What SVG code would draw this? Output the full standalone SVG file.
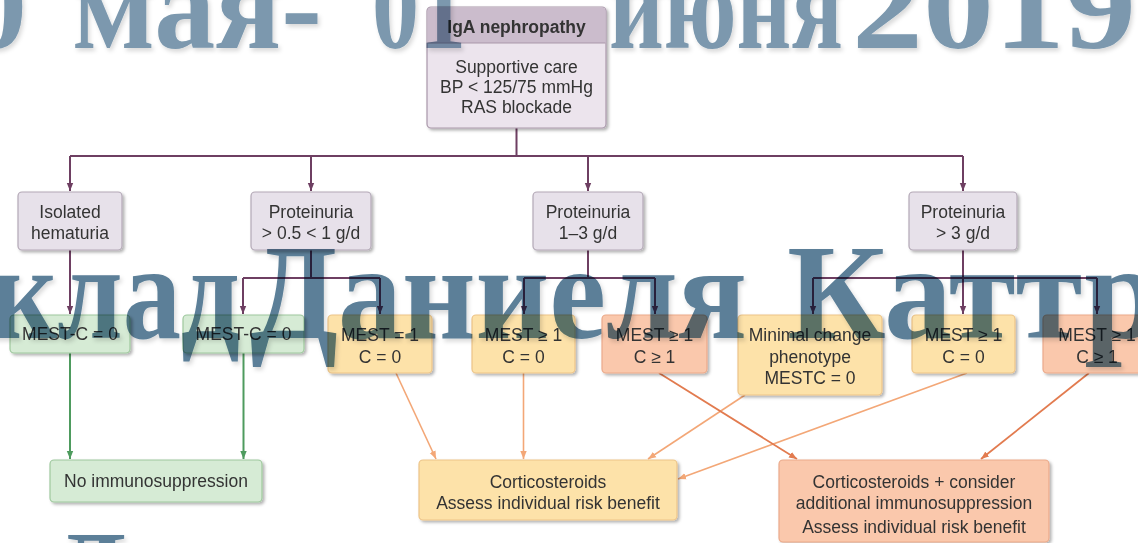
<svg xmlns="http://www.w3.org/2000/svg" width="1138" height="543" viewBox="0 0 1138 543">
<style>
.t{font-family:"Liberation Sans",Arial,sans-serif;font-size:17.5px;fill:#333;text-anchor:middle}
.b{font-weight:bold}
.lav{fill:#e7e1ea;stroke:#b3a8b6;stroke-width:1.2}
.grn{fill:#d6ebd5;stroke:#9ec89d;stroke-width:1.2}
.org{fill:#fde2a9;stroke:#edc488;stroke-width:1.2}
.sal{fill:#fac8ac;stroke:#eba98a;stroke-width:1.2}
.cp{stroke:#6e3f62;stroke-width:2;fill:none}
.cg{stroke:#4e9b5e;stroke-width:2;fill:none}
.co{stroke:#f3a777;stroke-width:1.6;fill:none}
.cr{stroke:#e27b4f;stroke-width:1.8;fill:none}
.wm{font-family:"Liberation Serif","DejaVu Serif",serif;font-weight:bold}
</style>
<defs>
<filter id="sh" x="-10%" y="-10%" width="130%" height="140%">
<feDropShadow dx="2" dy="2" stdDeviation="1.5" flood-color="#000" flood-opacity="0.3"/>
</filter>
<filter id="wsh" x="-5%" y="-5%" width="110%" height="120%">
<feDropShadow dx="2" dy="3" stdDeviation="2" flood-color="#000" flood-opacity="0.15"/>
</filter>
<marker id="ap" viewBox="0 0 10 10" refX="10" refY="5" markerWidth="8" markerHeight="8" orient="auto" markerUnits="userSpaceOnUse"><path d="M0,1 L10,5 L0,9 z" fill="#6e3f62"/></marker>
<marker id="ag" viewBox="0 0 10 10" refX="10" refY="5" markerWidth="8" markerHeight="8" orient="auto" markerUnits="userSpaceOnUse"><path d="M0,1 L10,5 L0,9 z" fill="#4e9b5e"/></marker>
<marker id="ao" viewBox="0 0 10 10" refX="10" refY="5" markerWidth="8" markerHeight="8" orient="auto" markerUnits="userSpaceOnUse"><path d="M0,1 L10,5 L0,9 z" fill="#f3a777"/></marker>
<marker id="ar" viewBox="0 0 10 10" refX="10" refY="5" markerWidth="8" markerHeight="8" orient="auto" markerUnits="userSpaceOnUse"><path d="M0,1 L10,5 L0,9 z" fill="#e27b4f"/></marker>
</defs>
<rect width="1138" height="543" fill="#fff"/>

<g id="connectors">
<path class="cp" d="M516.5,128 V156 M70,156 H963 M311,250 V278 M243,278 H380 M588,250 V278 M524,278 H655 M963,250 V278 M813,278 H1097"/>
<g marker-end="url(#ap)" class="cp">
<path d="M70,156 V191"/><path d="M311,156 V191"/><path d="M588,156 V191"/><path d="M963,156 V191"/>
<path d="M70,250 V314"/><path d="M243,278 V314"/><path d="M380,278 V314"/>
<path d="M524,278 V314"/><path d="M655,278 V314"/>
<path d="M813,278 V314"/><path d="M963,278 V314"/><path d="M1097,278 V314"/>
</g>
<g marker-end="url(#ag)" class="cg">
<path d="M70,353 V459"/><path d="M243.5,353 V459"/>
</g>
<g marker-end="url(#ao)" class="co">
<path d="M396,373 L436,459"/><path d="M523.5,373 V459"/><path d="M745,395 L648,459"/><path d="M967,373 L678,479"/>
</g>
<g marker-end="url(#ar)" class="cr">
<path d="M659,373 L797,459"/><path d="M1089,373 L981,459"/>
</g>
</g>

<g id="iga">
<rect x="427" y="7" width="179" height="121" rx="4" fill="#ece4ed" stroke="#a997aa" stroke-width="1.2" filter="url(#sh)"/>
<path d="M431,7.6 H602 A3.4,3.4 0 0 1 605.4,11 V43 H427.6 V11 A3.4,3.4 0 0 1 431,7.6 Z" fill="#cbbccc"/>
<line x1="427.6" y1="43" x2="605.4" y2="43" stroke="#a997aa" stroke-width="1"/>
<text class="t b" x="516.5" y="33">IgA nephropathy</text>
<text class="t" x="516.5" y="73">Supportive care</text>
<text class="t" x="516.5" y="93">BP &lt; 125/75 mmHg</text>
<text class="t" x="516.5" y="113">RAS blockade</text>
</g>

<g id="hematuria">
<rect class="lav" x="18" y="192" width="104" height="58" rx="4" filter="url(#sh)"/>
<text class="t" x="70" y="218">Isolated</text>
<text class="t" x="70" y="239">hematuria</text>
</g>
<g id="prot1">
<rect class="lav" x="251" y="192" width="120" height="58" rx="4" filter="url(#sh)"/>
<text class="t" x="311" y="218">Proteinuria</text>
<text class="t" x="311" y="239">&gt; 0.5 &lt; 1 g/d</text>
</g>
<g id="prot2">
<rect class="lav" x="533" y="192" width="110" height="58" rx="4" filter="url(#sh)"/>
<text class="t" x="588" y="218">Proteinuria</text>
<text class="t" x="588" y="239">1–3 g/d</text>
</g>
<g id="prot3">
<rect class="lav" x="909" y="192" width="108" height="58" rx="4" filter="url(#sh)"/>
<text class="t" x="963" y="218">Proteinuria</text>
<text class="t" x="963" y="239">&gt; 3 g/d</text>
</g>

<g id="g1">
<rect class="grn" x="10" y="315" width="120" height="38" rx="4" filter="url(#sh)"/>
<text class="t" x="70" y="340">MEST-C = 0</text>
</g>
<g id="g2">
<rect class="grn" x="183" y="315" width="121" height="38" rx="4" filter="url(#sh)"/>
<text class="t" x="243.5" y="340">MEST-C = 0</text>
</g>
<g id="o1">
<rect class="org" x="328" y="315" width="104" height="58" rx="4" filter="url(#sh)"/>
<text class="t" x="380" y="341">MEST = 1</text>
<text class="t" x="380" y="363">C = 0</text>
</g>
<g id="o2">
<rect class="org" x="472" y="315" width="103" height="58" rx="4" filter="url(#sh)"/>
<text class="t" x="523.5" y="341">MEST ≥ 1</text>
<text class="t" x="523.5" y="363">C = 0</text>
</g>
<g id="s1">
<rect class="sal" x="602" y="315" width="105" height="58" rx="4" filter="url(#sh)"/>
<text class="t" x="654.5" y="341">MEST ≥ 1</text>
<text class="t" x="654.5" y="363">C ≥ 1</text>
</g>
<g id="mc">
<rect class="org" x="738" y="315" width="144" height="80" rx="4" filter="url(#sh)"/>
<text class="t" x="810" y="341">Minimal change</text>
<text class="t" x="810" y="363">phenotype</text>
<text class="t" x="810" y="384">MESTC = 0</text>
</g>
<g id="o3">
<rect class="org" x="912" y="315" width="103" height="58" rx="4" filter="url(#sh)"/>
<text class="t" x="963.5" y="341">MEST ≥ 1</text>
<text class="t" x="963.5" y="363">C = 0</text>
</g>
<g id="s2">
<rect class="sal" x="1043" y="315" width="108" height="58" rx="4" filter="url(#sh)"/>
<text class="t" x="1097" y="341">MEST ≥ 1</text>
<text class="t" x="1097" y="363">C ≥ 1</text>
</g>

<g id="noimm">
<rect class="grn" x="50" y="460" width="212" height="42" rx="4" filter="url(#sh)"/>
<text class="t" x="156" y="487">No immunosuppression</text>
</g>
<g id="cort">
<rect class="org" x="419" y="460" width="258" height="60" rx="4" filter="url(#sh)"/>
<text class="t" x="548" y="488">Corticosteroids</text>
<text class="t" x="548" y="509">Assess individual risk benefit</text>
</g>
<g id="cortplus">
<rect class="sal" x="779" y="460" width="270" height="82" rx="4" filter="url(#sh)"/>
<text class="t" x="914" y="488">Corticosteroids + consider</text>
<text class="t" x="914" y="509">additional immunosuppression</text>
<text class="t" x="914" y="533">Assess individual risk benefit</text>
</g>

<g id="watermark" class="wm" style="mix-blend-mode:multiply" filter="url(#wsh)">
<g fill="#7b98ae" font-size="125">
<text x="27" y="48" text-anchor="end">0</text>
<text x="72" y="48" textLength="250" lengthAdjust="spacingAndGlyphs">мая-</text>
<text x="372" y="48" textLength="94" lengthAdjust="spacingAndGlyphs">01</text>
<text x="609" y="48" textLength="234" lengthAdjust="spacingAndGlyphs">июня</text>
<text x="852" y="48" textLength="284" lengthAdjust="spacingAndGlyphs">2019</text>
</g>
<g fill="#5b7f98" font-size="135">
<text x="-10" y="338" textLength="250" lengthAdjust="spacingAndGlyphs">клад</text>
<text x="250" y="338" textLength="497" lengthAdjust="spacingAndGlyphs">Даниеля</text>
<text x="787" y="338" textLength="373" lengthAdjust="spacingAndGlyphs">Каттр</text>
</g>
<text x="54" y="604" font-size="106" fill="#5b7f98">Д</text>
</g>
</svg>
